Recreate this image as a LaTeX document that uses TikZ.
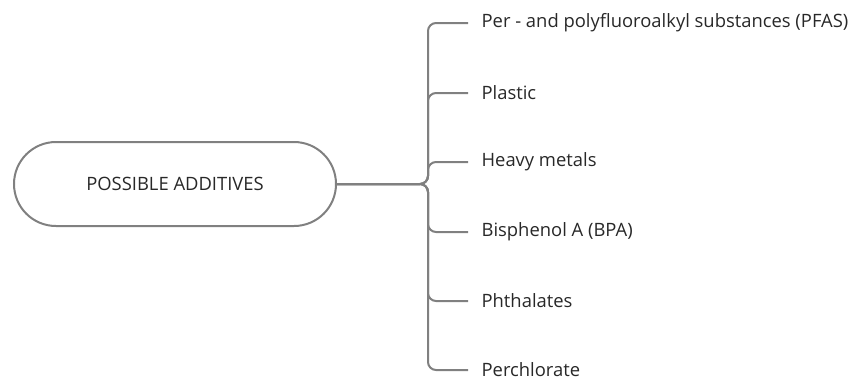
\documentclass[tikz,border=0pt]{standalone}
\usepackage{fontspec}
\setmainfont{Open Sans}
\definecolor{linegray}{RGB}{128,128,128}
\definecolor{textgray}{RGB}{40,40,40}
\begin{document}
\begin{tikzpicture}[x=0.75pt,y=-0.75pt,
  conn/.style={draw=linegray,line width=1.5pt,rounded corners=6pt},
  rootbox/.style={draw=linegray,line width=1.5pt,rounded corners=31.5pt,minimum width=241.5pt,minimum height=63pt,text=textgray,font=\fontsize{13.8pt}{16pt}\selectfont},
  leaf/.style={anchor=west,inner xsep=10pt,inner ysep=2pt,text=textgray,font=\fontsize{13.8pt}{16pt}\selectfont}]
\useasboundingbox (0,0) rectangle (860,380);
\node[rootbox] (root) at (175,184) {POSSIBLE ADDITIVES};
\coordinate (j) at (428,184);
\node[leaf] (l1) at (468,23) {Per - and polyfluoroalkyl substances (PFAS)};
\node[leaf] (l2) at (468,93) {Plastic};
\node[leaf] (l3) at (468,162) {Heavy metals};
\node[leaf] (l4) at (468,232) {Bisphenol A (BPA)};
\node[leaf] (l5) at (468,301) {Phthalates};
\node[leaf] (l6) at (468,370) {Perchlorate};
\foreach \n in {l1,l2,l3,l4,l5,l6}{
  \draw[conn] (root.east) -- (j) -- (j |- \n.west) -- (\n.west);
}
\end{tikzpicture}
\end{document}
